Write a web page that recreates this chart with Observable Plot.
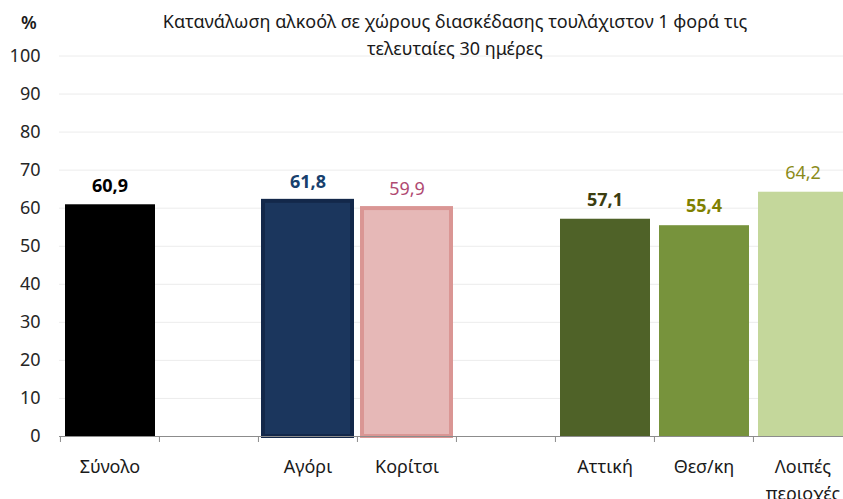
<!DOCTYPE html>
<html>
<head>
<meta charset="utf-8">
<script src="https://cdn.jsdelivr.net/npm/d3@7"></script>
<script src="https://cdn.jsdelivr.net/npm/@observablehq/plot@0.6"></script>
<style>
  body { margin: 0; background: #fff; }
  #wrap { position: relative; width: 843px; height: 499px; overflow: hidden; font-family: "Noto Sans", "Open Sans", sans-serif; }
  #title { position: absolute; left: 110px; width: 690px; top: 8px; text-align: center; font-size: 18px; line-height: 27px; color: #1a1a1a; }
  #unit { position: absolute; left: 21px; top: 10px; font-size: 18px; font-weight: 600; color: #1a1a1a; }
  #chart { position: absolute; left: 0; top: 0; }
</style>
</head>
<body>
<div id="wrap">
  <div id="chart"></div>
  <div id="unit">%</div>
  <div id="title">Κατανάλωση αλκοόλ σε χώρους διασκέδασης τουλάχιστον 1 φορά τις<br>τελευταίες 30 ημέρες</div>
</div>
<script>
const categories = ["Σύνολο", "κενό1", "Αγόρι", "Κορίτσι", "κενό2", "Αττική", "Θεσ/κη", "Λοιπές περιοχές"];
const tickLabels = ["Σύνολο", "", "Αγόρι", "Κορίτσι", "", "Αττική", "Θεσ/κη", "Λοιπές\nπεριοχές"];
const groups = ["Σύνολο", "Αγόρι", "Κορίτσι", "Αττική", "Θεσ/κη", "Λοιπές περιοχές"];
const values = [60.9, 61.8, 59.9, 57.1, 55.4, 64.2];
const fills = ["#000000", "#1b365d", "#e6b8b7", "#4f6228", "#77933c", "#c4d79b"];
const strokes = [null, "#13284a", "#da9694", null, null, null];
const labelColors = ["#000000", "#17406d", "#b04a72", "#3b3d10", "#7f8000", "#8b8b1a"];
const labelBold = [true, true, false, true, true, false];
const yTicks = [0, 10, 20, 30, 40, 50, 60, 70, 80, 90, 100];

const data = groups.map((g, i) => ({
  cat: g, value: values[i], fill: fills[i], stroke: strokes[i],
  labelColor: labelColors[i], bold: labelBold[i],
  label: values[i].toFixed(1).replace(".", ",")
}));

const W = 843, H = 499, mL = 59, mR = -9, mT = 55.5, mB = 63;
const bw = (W - mL - mR) / categories.length;
const fmt = c => tickLabels[categories.indexOf(c)];

const chart = Plot.plot({
  width: W, height: H,
  marginLeft: mL, marginRight: mR, marginTop: mT, marginBottom: mB,
  style: { fontFamily: "'Noto Sans', 'Open Sans', sans-serif", fontSize: "18px", color: "#262626", background: "transparent" },
  x: { domain: categories, padding: 0, axis: null },
  y: { domain: [0, 100], axis: null },
  marks: [
    Plot.gridY(yTicks.slice(1), { stroke: "#ececec", strokeOpacity: 1, strokeWidth: 1 }),
    Plot.barY(data.filter(d => !d.stroke), { x: "cat", y: "value", fill: "fill", insetLeft: 5, insetRight: 4 }),
    Plot.barY(data.filter(d => d.stroke), { x: "cat", y: "value", fill: "fill", stroke: "stroke", strokeWidth: 4, insetLeft: 5, insetRight: 5 }),
    Plot.ruleY([0], { stroke: "#8c8c8c", strokeWidth: 1 }),
    Plot.ruleX(categories, { x: d => d, dx: -bw / 2, y1: 0, y2: 0, insetBottom: -6, stroke: "#8c8c8c" }),
    Plot.axisY(yTicks, { label: null, tickSize: 0, tickPadding: 19, fontSize: 18, fill: "#262626" }),
    Plot.axisX({ label: null, tickSize: 0, tickPadding: 18, tickFormat: fmt, fontSize: 18, lineHeight: 1.48, fill: "#1a1a1a" }),
    Plot.text(data.filter(d => d.bold), { x: "cat", y: "value", text: "label", fill: "labelColor", dy: -19, fontSize: 18, fontWeight: "bold" }),
    Plot.text(data.filter(d => !d.bold), { x: "cat", y: "value", text: "label", fill: "labelColor", dy: -19, fontSize: 18 })
  ]
});
document.getElementById("chart").appendChild(chart);
</script>
</body>
</html>
